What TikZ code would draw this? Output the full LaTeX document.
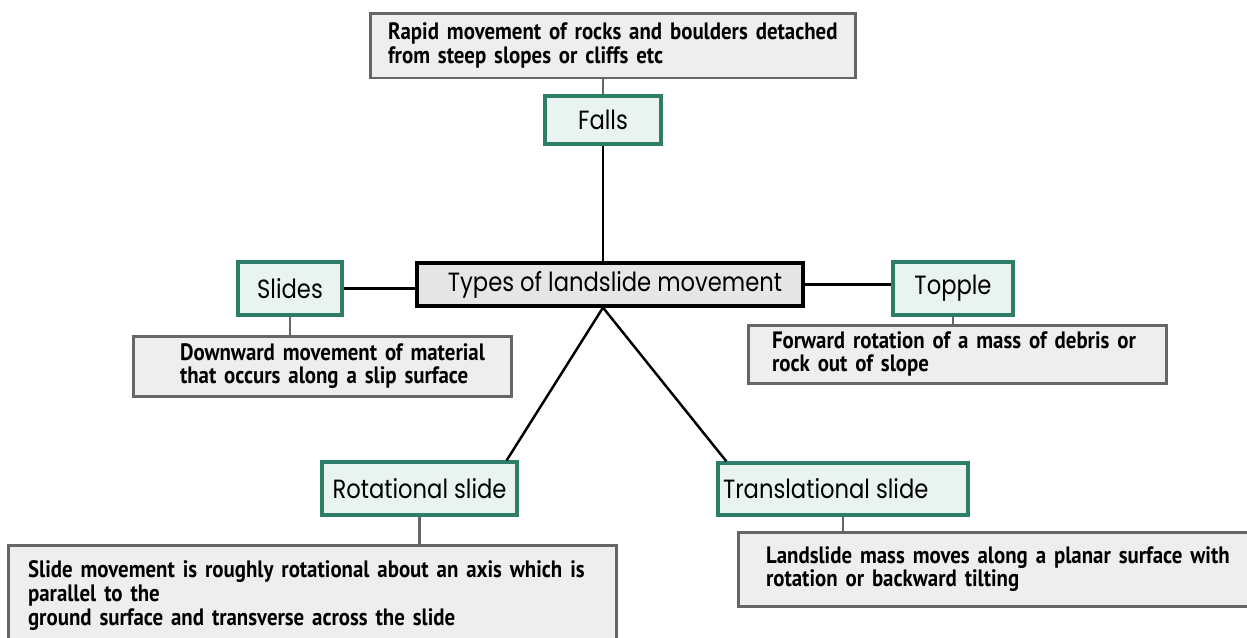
\documentclass[tikz,border=0pt]{standalone}
\usepackage{fontspec}
\newfontfamily\headfont[FakeStretch=0.86]{Poppins}
\newfontfamily\notefont[FakeStretch=0.88]{PT Sans}
\usetikzlibrary{positioning,calc}
\definecolor{boxgreen}{HTML}{2E7D68}
\definecolor{greenfill}{HTML}{E9F4F0}
\definecolor{notegray}{HTML}{666666}
\definecolor{notefill}{HTML}{EEEEEE}
\definecolor{hubfill}{HTML}{E6E6E6}

\begin{document}
\begin{tikzpicture}[x=0.02cm,y=-0.02cm,
  kind/.style={draw=boxgreen,line width=1.9pt,fill=greenfill,inner sep=0pt,
    font=\headfont\fontsize{15}{16}\selectfont},
  note/.style={draw=notegray,line width=1.7pt,fill=notefill,align=left,
    font=\notefont\bfseries\fontsize{13.5}{13.5}\selectfont},
  link/.style={line width=1.4pt},
  notelink/.style={draw=notegray,line width=1.4pt}]
\useasboundingbox (0,0) rectangle (1247,637);
\clip (0,0) rectangle (1247,637);

\node[draw=black,line width=1.8pt,fill=hubfill,minimum width=7.72cm,minimum height=0.86cm,
  font=\headfont\fontsize{15}{16}\selectfont] (hub) at (610,284.5) {\raisebox{-2pt}{\hspace{0.2cm}Types of landslide movement}};

\node[kind,minimum width=2.32cm,minimum height=0.96cm] (falls) at (603,120) {\raisebox{-2pt}{Falls}};
\node[kind,minimum width=2.08cm,minimum height=1.06cm] (slides) at (290,288.5) {Slides};
\node[kind,minimum width=2.4cm,minimum height=1.06cm] (topple) at (953,288.5) {Topple};
\node[kind,minimum width=3.9cm,minimum height=1.06cm] (rot) at (419.5,488.5) {Rotational slide};
\node[kind,minimum width=5cm,minimum height=1.04cm] (trans) at (843,489) {\makebox[4.8cm][l]{Translational slide}};

\node[note,inner xsep=0.36cm,text width=9cm,minimum height=1.3cm] (fallsnote) at (613,45.5)
  {Rapid movement of rocks and boulders detached\\from steep slopes or cliffs etc};
\node[note,inner xsep=0.94cm,text width=5.7cm,minimum height=1.2cm] (slidesnote) at (322.5,366)
  {\mbox{Downward movement of material}\\\mbox{that occurs along a slip surface}};
\node[note,inner xsep=0.48cm,text width=7.42cm,minimum height=1.16cm] (topplenote) at (957.5,354)
  {Forward rotation of a mass of debris or\\rock out of slope};
\node[note,inner xsep=0.4cm,text width=11.38cm,minimum height=2.4cm] (rotnote) at (312.5,605)
  {Slide movement is roughly rotational about an axis which is\\parallel to the\\ground surface and transverse across the slide\\\mbox{}};
\node[note,inner xsep=0.56cm,text width=9.32cm,minimum height=1.48cm] (transnote) at (999,569)
  {Landslide mass moves along a planar surface with\\rotation or backward tilting};

\coordinate (foot) at (hub.south -| falls.south);

\draw[link] (falls.south) -- (falls.south |- hub.north);
\draw[link] (slides.east) -- (hub.west |- slides.east);
\draw[link] (hub.east) -- (topple.west |- hub.east);
\draw[link] (foot) -- ($(rot.north east)+(-12,0)$);
\draw[link] (foot) -- ($(trans.north west)+(10,0)$);

\draw[notelink] (falls.north) -- (falls.north |- fallsnote.south);
\draw[notelink] (slides.south) -- (slides.south |- slidesnote.north);
\draw[notelink] (topple.south) -- (topple.south |- topplenote.north);
\draw[notelink] (rot.south) -- (rot.south |- rotnote.north);
\draw[notelink] (trans.south) -- (trans.south |- transnote.north);

\end{tikzpicture}
\end{document}
